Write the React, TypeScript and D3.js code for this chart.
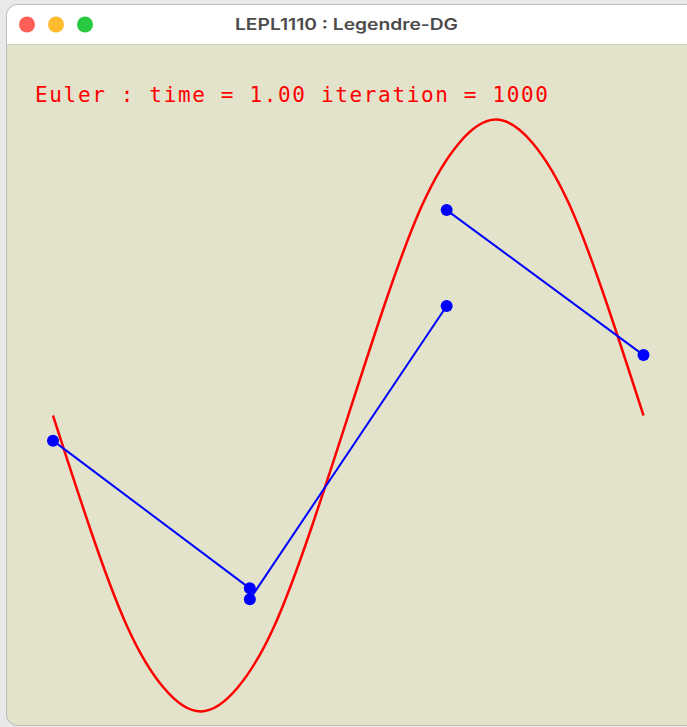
import React from "react";
import * as d3 from "d3";

// Mesh nodes (reference coordinate on [0, 1]) and the three DG elements.
const meshNodes = [0, 1 / 3, 2 / 3, 1];

// Degree-1 Legendre DG solution: value at the left and right end of each element.
const elementLeftValues = [-0.085, -0.621, 0.694];
const elementRightValues = [-0.584, 0.37, 0.204];

// Exact solution sampled along the domain.
const exactX = [0, 0.0625, 0.125, 0.1875, 0.25, 0.3125, 0.375, 0.4375, 0.5, 0.5625, 0.625, 0.6875, 0.75, 0.8125, 0.875, 0.9375, 1];
const exactU = [0, -0.38, -0.71, -0.92, -1, -0.92, -0.71, -0.38, 0, 0.38, 0.71, 0.92, 1, 0.92, 0.71, 0.38, 0];

const windowTitle = "LEPL1110 : Legendre-DG";
const statusText = "Euler : time = 1.00 iteration = 1000";

const W = 687;
const H = 727;

export default function App() {
  const x = d3.scaleLinear().domain([0, 1]).range([53, 643.5]);
  const y = d3.scaleLinear().domain([-1, 1]).range([711.5, 119.5]);

  const exactLine = d3
    .line<number>()
    .x((_, i) => x(exactX[i]))
    .y((d) => y(d))
    .curve(d3.curveNatural);

  const segment = d3
    .line<[number, number]>()
    .x((d) => x(d[0]))
    .y((d) => y(d[1]));

  const elements = elementLeftValues.map((uL, e) => {
    const pts: [number, number][] = [
      [meshNodes[e], uL],
      [meshNodes[e + 1], elementRightValues[e]],
    ];
    return pts;
  });

  const winX = 7;
  const winY = 5;
  const titleH = 39;

  return (
    <div style={{ position: "fixed", left: 0, top: 0 }}>
      <svg width={W} height={H} style={{ display: "block" }}>
        <defs>
          <clipPath id="win">
            <rect x={winX} y={winY} width={W + 20} height={H - winY - 2} rx={11} />
          </clipPath>
        </defs>
        <rect width={W} height={H} fill="#e9e9e9" />
        <rect x={winX - 1} y={winY - 1} width={W + 22} height={H - winY} rx={12} fill="#bdbdbd" />
        <g clipPath="url(#win)">
          <rect x={winX} y={winY} width={W + 20} height={H} fill="#e3e3cb" />
          <rect x={winX} y={winY} width={W + 20} height={titleH} fill="#ffffff" />
          <line x1={winX} x2={W} y1={winY + titleH + 0.5} y2={winY + titleH + 0.5} stroke="#cfcfbf" strokeWidth={1} />
        </g>
        <circle cx={27} cy={24.5} r={8} fill="#ff5f57" />
        <circle cx={56} cy={24.5} r={8} fill="#febc2e" />
        <circle cx={85} cy={24.5} r={8} fill="#28c840" />
        <text
          x={346.5}
          y={30}
          textAnchor="middle"
          fontFamily="Inter, 'Liberation Sans', sans-serif"
          fontWeight={600}
          fontSize={16}
          fill="#4b4b4b"
          textLength={223}
          lengthAdjust="spacingAndGlyphs"
        >
          {windowTitle}
        </text>

        <text
          x={35}
          y={102}
          fontFamily="'DejaVu Sans Mono', monospace"
          fontSize={21}
          fill="#ff0000"
          textLength={513}
          lengthAdjust="spacing"
        >
          {statusText}
        </text>

        <path d={exactLine(exactU) ?? ""} fill="none" stroke="#ff0000" strokeWidth={2.5} />

        {elements.map((pts, i) => (
          <g key={i}>
            <path d={segment(pts) ?? ""} fill="none" stroke="#0000ff" strokeWidth={2} />
            {pts.map((p, j) => (
              <circle key={j} cx={x(p[0])} cy={y(p[1])} r={6} fill="#0000ff" />
            ))}
          </g>
        ))}
      </svg>
    </div>
  );
}
